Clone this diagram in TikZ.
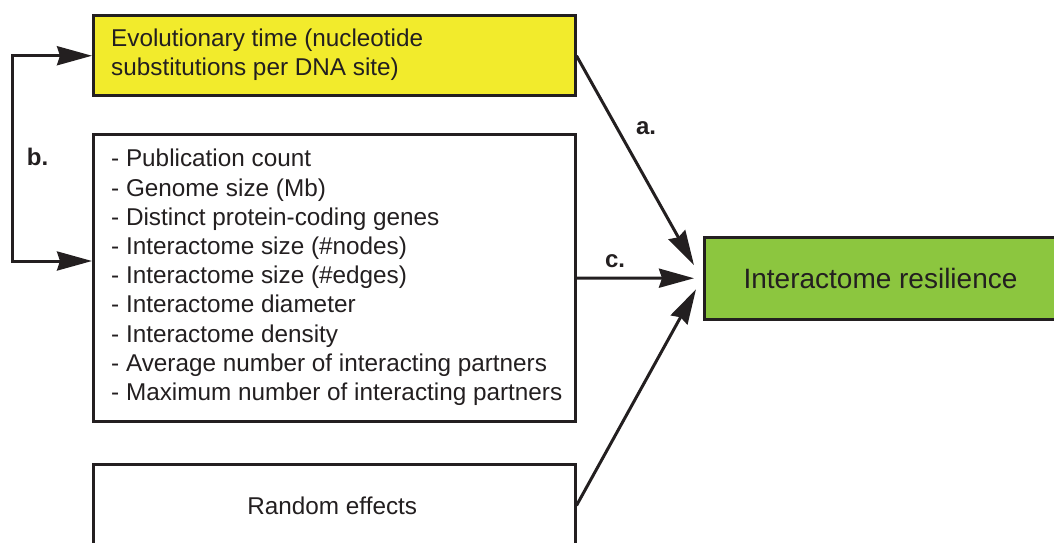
\documentclass[tikz,border=0pt]{standalone}
\usepackage{fontspec}
\setmainfont{Liberation Sans}
\usetikzlibrary{arrows.meta}
\definecolor{evoyellow}{HTML}{F2EB2C}
\definecolor{resgreen}{HTML}{8CC63F}
\definecolor{inkblack}{HTML}{231F20}
\tikzset{
  box/.style={draw=inkblack, line width=3pt, inner sep=0pt, text=inkblack,
    font=\fontsize{24.3}{29.2}\selectfont},
  txt/.style={text=inkblack, align=left, inner sep=0pt,
    font=\fontsize{24.3}{29.2}\selectfont},
  lbl/.style={text=inkblack, inner sep=0pt, font=\fontsize{24}{29}\selectfont\bfseries},
  link/.style={draw=inkblack, line width=3pt}
}
\begin{document}
\begin{tikzpicture}[x=1pt, y=-1pt, >={Stealth[length=35pt, width=19pt, inset=3pt]}]
  \useasboundingbox (0,0) rectangle (1054,543);
  \clip (0,0) rectangle (1054,543);

  % boxes on the left
  \node[box, fill=evoyellow, minimum width=481.5pt, minimum height=79.5pt] (evo) at (334.25,55.75) {};
  \node[txt, anchor=west] (evotext) at ([xshift=19pt,yshift=1pt]evo.west)
    {Evolutionary time (nucleotide\\substitutions per DNA site)};

  \node[box, fill=white, minimum width=481.5pt, minimum height=287pt] (traits) at (334.25,278) {};
  \node[txt, anchor=west] (traitstext) at ([xshift=19pt,yshift=0.5pt]traits.west)
    {- Publication count\\
     - Genome size (Mb)\\
     - Distinct protein-coding genes\\
     - Interactome size (\#nodes)\\
     - Interactome size (\#edges)\\
     - Interactome diameter\\
     - Interactome density\\
     - Average number of interacting partners\\
     - Maximum number of interacting partners};

  \node[box, fill=white, minimum width=481.5pt, minimum height=82pt] (rand) at (334.25,505.5)
    {\hspace*{-4pt}Random effects};

  % outcome
  \node[box, fill=resgreen, minimum width=352pt, minimum height=81.5pt,
    font=\fontsize{28}{34}\selectfont] (res) at (880.5,278.25) {Interactome resilience};

  % arrow ends
  \coordinate (ina) at ([xshift=-9pt,yshift=13pt]res.west);
  \coordinate (inc) at ([xshift=-9pt]res.west);
  \coordinate (inr) at ([xshift=-7pt,yshift=-11pt]res.west);
  \coordinate (tin) at ([yshift=17pt]traits.west);

  \draw[link, ->] (evo.east) -- (ina);
  \draw[link, ->] (traits.east) -- (inc);
  \draw[link, ->] (rand.east) -- (inr);
  \draw[link, <->] (evo.west) -- ++(-80pt,0) |- (tin);

  \node[lbl] (la) at (646,128) {a.};
  \node[lbl] (lb) at (37.5,157) {b.};
  \node[lbl] (lc) at (615,261) {c.};
\end{tikzpicture}
\end{document}
